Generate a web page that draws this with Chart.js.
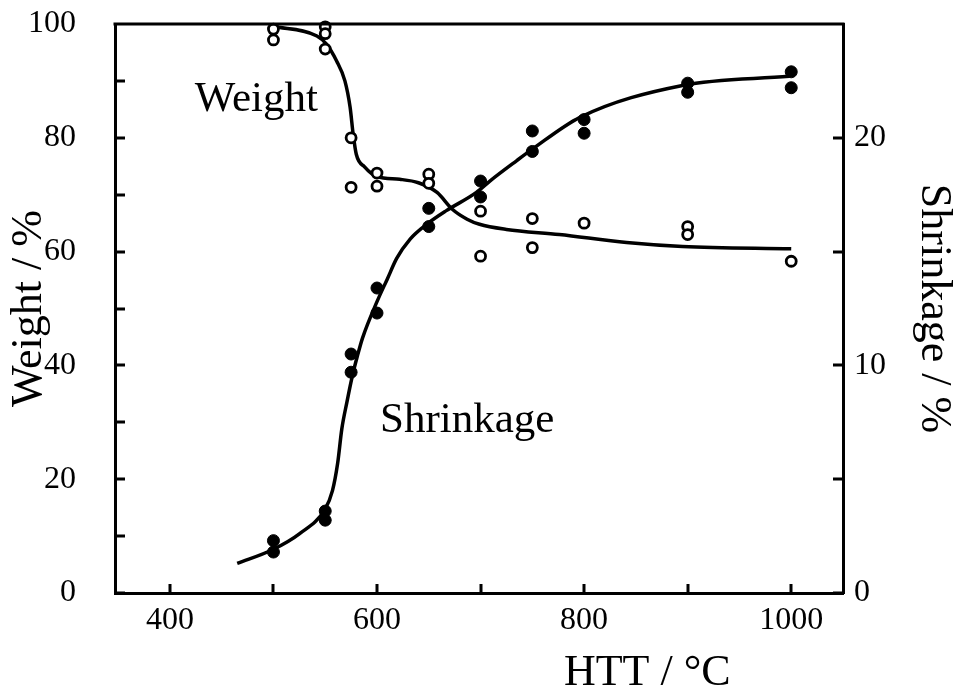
<!DOCTYPE html>
<html>
<head>
<meta charset="utf-8">
<script src="https://cdn.jsdelivr.net/npm/chart.js@4/dist/chart.umd.min.js"></script>
<style>
  html, body { margin: 0; padding: 0; background: #fff; }
  canvas { display: block; }
</style>
</head>
<body>
<canvas id="c" width="957" height="699"></canvas>
<script>
// ---- Data ----
// Weight (open circles, left axis, %)
const weightTemps  = [500, 500, 550, 550, 550, 575, 575, 600, 600, 650, 650, 700, 700, 750, 750, 800, 900, 900, 1000];
const weightValues = [99.1, 97.2, 99.5, 98.3, 95.6, 80.0, 71.3, 73.8, 71.5, 73.6, 72.0, 67.1, 59.2, 65.8, 60.7, 65.0, 64.4, 63.0, 58.3];

// Shrinkage (filled circles, right axis, %)
const shrinkTemps  = [500, 500, 550, 550, 575, 575, 600, 600, 650, 650, 700, 700, 750, 750, 800, 800, 900, 900, 1000, 1000];
const shrinkValues = [2.3, 1.8, 3.6, 3.2, 10.5, 9.7, 13.4, 12.3, 16.9, 16.1, 18.1, 17.4, 20.3, 19.4, 20.8, 20.2, 22.4, 22.0, 22.9, 22.2];

// Fitted curves
const weightCurveTemps  = [499, 542, 551, 561, 569, 574, 577, 580, 588, 600, 622, 640, 658, 673, 687, 699, 725, 776, 841, 895, 1000];
const weightCurveValues = [99.6, 97.9, 96.5, 93.5, 90.0, 85.4, 80.6, 77.1, 74.9, 73.2, 72.7, 72.1, 70.4, 67.4, 65.7, 64.8, 63.9, 63.0, 61.6, 60.9, 60.5];

const shrinkCurveTemps  = [465, 499, 525, 550, 557, 562, 566, 571, 576, 581, 586, 600, 610, 619, 632, 648, 667, 696, 709, 735, 750, 796, 895, 998];
const shrinkCurveValues = [1.3, 1.9, 2.6, 3.7, 4.5, 5.7, 7.2, 8.4, 9.5, 10.4, 11.2, 12.8, 13.8, 14.7, 15.55, 16.2, 16.8, 17.6, 18.1, 19.0, 19.5, 20.9, 22.3, 22.7];

// Ticks and labels
const xTickValues      = [400, 500, 600, 700, 800, 900, 1000];
const xTickLabels      = ['400', '', '600', '', '800', '', '1000'];
const weightTickValues = [0, 10, 20, 30, 40, 50, 60, 70, 80, 90, 100];
const weightTickLabels = ['0', '', '20', '', '40', '', '60', '', '80', '', '100'];
const shrinkTickValues = [0, 5, 10, 15, 20, 25];
const shrinkTickLabels = ['0', '', '10', '', '20', ''];

// Texts
const xTitle = 'HTT / °C';
const yTitle = 'Weight / %';
const y2Title = 'Shrinkage / %';
const weightNote = { text: 'Weight', x: 424, y: 84.7 };
const shrinkNote = { text: 'Shrinkage', x: 603, y: 28.3 };

// ---- Build ----
const FONT = '"Liberation Serif", "Times New Roman", serif';
const toXY = (xs, ys) => xs.map((x, i) => ({ x: x, y: ys[i] }));
const labelFor = (vals, labs) => (v) => { const i = vals.indexOf(v); return i >= 0 ? labs[i] : ''; };

const decorPlugin = {
  id: 'decor',
  afterDraw(chart) {
    const { ctx, chartArea, scales } = chart;
    const { left, right, top, bottom } = chartArea;
    ctx.save();
    ctx.strokeStyle = '#000';
    ctx.lineWidth = 3;
    ctx.lineCap = 'butt';
    // top frame line
    ctx.beginPath();
    ctx.moveTo(left - 1.5, top);
    ctx.lineTo(right + 1.5, top);
    ctx.stroke();
    // inward tick marks
    ctx.beginPath();
    scales.x.ticks.forEach(t => {
      const px = Math.round(scales.x.getPixelForValue(t.value));
      ctx.moveTo(px, bottom);
      ctx.lineTo(px, bottom - 9);
    });
    scales.y.ticks.forEach(t => {
      const py = Math.round(scales.y.getPixelForValue(t.value));
      if (t.value === 100) return;
      ctx.moveTo(left, py);
      ctx.lineTo(left + 10, py);
    });
    scales.y2.ticks.forEach(t => {
      const py = Math.round(scales.y2.getPixelForValue(t.value));
      if (t.value === 25) return;
      ctx.moveTo(right, py);
      ctx.lineTo(right - 10, py);
    });
    ctx.stroke();

    // in-plot annotations
    ctx.fillStyle = '#000';
    ctx.textBaseline = 'alphabetic';
    ctx.textAlign = 'left';
    ctx.font = '43px ' + FONT;
    ctx.fillText(weightNote.text, scales.x.getPixelForValue(weightNote.x), scales.y.getPixelForValue(weightNote.y));
    ctx.fillText(shrinkNote.text, scales.x.getPixelForValue(shrinkNote.x), scales.y.getPixelForValue(shrinkNote.y));

    // x axis title
    ctx.font = '44px ' + FONT;
    ctx.textAlign = 'center';
    ctx.fillText(xTitle, scales.x.getPixelForValue(861), 685);
    ctx.restore();
  }
};

const bgPlugin = {
  id: 'bg',
  beforeDraw(chart) {
    const ctx = chart.ctx;
    ctx.save();
    ctx.fillStyle = '#fff';
    ctx.fillRect(0, 0, chart.width, chart.height);
    ctx.restore();
  }
};

const fixV = (w) => (s) => { s.width = w; s.paddingTop = 0; s.paddingBottom = 0; };

new Chart(document.getElementById('c'), {
  type: 'scatter',
  data: {
    datasets: [
      {
        label: 'Weight',
        data: toXY(weightTemps, weightValues),
        yAxisID: 'y',
        showLine: false,
        pointStyle: 'circle',
        pointRadius: 5,
        pointBorderWidth: 2.8,
        pointBackgroundColor: '#fff',
        pointBorderColor: '#000',
        clip: false,
        order: 0
      },
      {
        label: 'Shrinkage',
        data: toXY(shrinkTemps, shrinkValues),
        yAxisID: 'y2',
        showLine: false,
        pointStyle: 'circle',
        pointRadius: 6,
        pointBorderWidth: 1,
        pointBackgroundColor: '#000',
        pointBorderColor: '#000',
        clip: false,
        order: 0
      },
      {
        label: 'Weight fit',
        data: toXY(weightCurveTemps, weightCurveValues),
        yAxisID: 'y',
        showLine: true,
        pointRadius: 0,
        borderColor: '#000',
        borderWidth: 3.5,
        cubicInterpolationMode: 'monotone',
        fill: false,
        clip: false,
        order: 1
      },
      {
        label: 'Shrinkage fit',
        data: toXY(shrinkCurveTemps, shrinkCurveValues),
        yAxisID: 'y2',
        showLine: true,
        pointRadius: 0,
        borderColor: '#000',
        borderWidth: 3.5,
        cubicInterpolationMode: 'monotone',
        fill: false,
        clip: false,
        order: 1
      }
    ]
  },
  options: {
    responsive: false,
    animation: false,
    devicePixelRatio: 1,
    layout: { padding: { top: 24, left: 0, right: 0, bottom: 0 } },
    plugins: {
      legend: { display: false },
      tooltip: { enabled: false },
      title: { display: false }
    },
    scales: {
      x: {
        type: 'linear',
        position: 'bottom',
        min: 347,
        max: 1050,
        afterBuildTicks: s => { s.ticks = xTickValues.map(v => ({ value: v })); },
        afterFit: s => { s.height = 106; s.paddingLeft = 0; s.paddingRight = 0; },
        grid: { display: false, drawTicks: false },
        border: { display: true, color: '#000', width: 3 },
        ticks: {
          callback: labelFor(xTickValues, xTickLabels),
          color: '#000',
          font: { family: FONT, size: 32, lineHeight: 1 },
          padding: 12,
          maxRotation: 0,
          autoSkip: false
        },
        title: { display: false, text: xTitle }
      },
      y: {
        type: 'linear',
        position: 'left',
        min: 0,
        max: 100,
        afterBuildTicks: s => { s.ticks = weightTickValues.map(v => ({ value: v })); },
        afterFit: fixV(115),
        grid: { display: false, drawTicks: false },
        border: { display: true, color: '#000', width: 3 },
        ticks: {
          callback: labelFor(weightTickValues, weightTickLabels),
          color: '#000',
          font: { family: FONT, size: 32, lineHeight: 1 },
          padding: 39,
          autoSkip: false
        },
        title: {
          display: true,
          text: yTitle,
          color: '#000',
          font: { family: FONT, size: 44, lineHeight: 1 },
          padding: { top: 7, bottom: 0 }
        }
      },
      y2: {
        type: 'linear',
        position: 'right',
        min: 0,
        max: 25,
        afterBuildTicks: s => { s.ticks = shrinkTickValues.map(v => ({ value: v })); },
        afterFit: fixV(114),
        grid: { display: false, drawTicks: false },
        border: { display: true, color: '#000', width: 3 },
        ticks: {
          callback: labelFor(shrinkTickValues, shrinkTickLabels),
          color: '#000',
          font: { family: FONT, size: 32, lineHeight: 1 },
          padding: 11,
          autoSkip: false
        },
        title: {
          display: true,
          text: y2Title,
          color: '#000',
          font: { family: FONT, size: 44, lineHeight: 1 },
          padding: { top: 1, bottom: 0 }
        }
      }
    }
  },
  plugins: [bgPlugin, decorPlugin]
});
</script>
</body>
</html>
